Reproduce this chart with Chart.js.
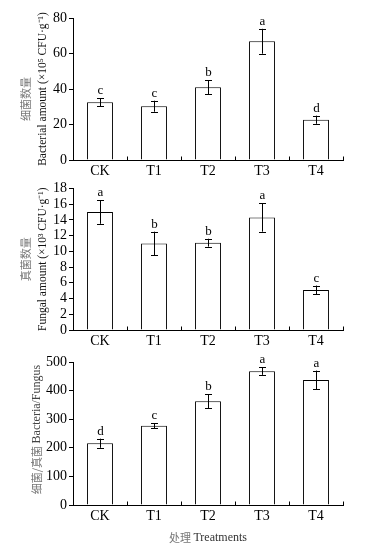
<!DOCTYPE html>
<html>
<head>
<meta charset="utf-8">
<script src="https://cdn.jsdelivr.net/npm/chart.js"></script>
<style>
  body { margin: 0; background: #fff; }
  #wrap { position: relative; width: 368px; height: 552px; }
  canvas { position: absolute; left: 0; }
</style>
</head>
<body>
<div id="wrap">
  <canvas id="c1" width="368" height="180" style="top:0px"></canvas>
  <canvas id="c2" width="368" height="172" style="top:178px"></canvas>
  <canvas id="c3" width="368" height="202" style="top:350px"></canvas>
</div>
<script>
const categories = ['CK', 'T1', 'T2', 'T3', 'T4'];

const bacteria = [32.6, 30.3, 41.0, 66.9, 22.7];
const bacteriaErr = [2.2, 3.1, 3.9, 7.0, 2.3];
const bacteriaLetters = ['c', 'c', 'b', 'a', 'd'];

const fungi = [15.0, 11.0, 11.1, 14.3, 5.1];
const fungiErr = [1.5, 1.5, 0.5, 1.8, 0.55];
const fungiLetters = ['a', 'b', 'b', 'a', 'c'];

const ratio = [216, 277, 363, 468, 437];
const ratioErr = [16, 9, 24, 13, 33];
const ratioLetters = ['d', 'c', 'b', 'a', 'a'];

const bacteriaTicks = [0, 20, 40, 60, 80];
const fungiTicks = [0, 2, 4, 6, 8, 10, 12, 14, 16, 18];
const ratioTicks = [0, 100, 200, 300, 400, 500];

const SERIF = '"Liberation Serif", "Times New Roman", serif';
const CJK = '"Noto Sans CJK SC", sans-serif';

// draw a run of text pieces (different fonts / colours) centred on a point
function drawRun(ctx, parts, cx, cy, rotate) {
    ctx.save();
    ctx.translate(cx, cy);
    if (rotate) ctx.rotate(-Math.PI / 2);
    let total = 0;
    parts.forEach(function (p) { ctx.font = p.font; total += ctx.measureText(p.text).width; });
    let x = -total / 2;
    ctx.textBaseline = 'middle';
    ctx.textAlign = 'left';
    parts.forEach(function (p) {
        ctx.font = p.font;
        ctx.fillStyle = p.color;
        ctx.fillText(p.text, x, 0);
        x += ctx.measureText(p.text).width;
    });
    ctx.restore();
}

function makePanel(id, values, errs, letters, ticks, opts) {
    const extras = {
        id: 'extras',
        afterDatasetsDraw(chart) {
            const ctx = chart.ctx;
            const ys = chart.scales.y;
            const xs = chart.scales.x;
            const meta = chart.getDatasetMeta(0);
            ctx.save();
            ctx.strokeStyle = '#000';
            ctx.lineWidth = 1;
            meta.data.forEach(function (bar, i) {
                const x = Math.round(bar.x) + 0.5;
                const top = ys.getPixelForValue(values[i] + errs[i]);
                const bot = ys.getPixelForValue(values[i] - errs[i]);
                ctx.beginPath();
                ctx.moveTo(x, top); ctx.lineTo(x, bot);
                ctx.moveTo(x - 3.5, Math.round(top) + 0.5); ctx.lineTo(x + 3.5, Math.round(top) + 0.5);
                ctx.moveTo(x - 3.5, Math.round(bot) + 0.5); ctx.lineTo(x + 3.5, Math.round(bot) + 0.5);
                ctx.stroke();
                ctx.font = '13px ' + SERIF;
                ctx.fillStyle = '#000';
                ctx.textAlign = 'center';
                ctx.textBaseline = 'alphabetic';
                ctx.fillText(letters[i], x, top - 4);
            });
            // small inward ticks between categories on the x axis
            const step = xs.getPixelForValue(1) - xs.getPixelForValue(0);
            const base = Math.round(chart.chartArea.bottom) + 0.5;
            ctx.beginPath();
            for (let i = 1; i <= categories.length; i++) {
                let tx = i < categories.length ? xs.getPixelForValue(i) - step / 2 : chart.chartArea.right;
                tx = Math.round(tx) + 0.5;
                ctx.moveTo(tx, base); ctx.lineTo(tx, base - 4);
            }
            ctx.stroke();
            ctx.restore();

            // axis titles
            opts.ytitle.forEach(function (line) {
                drawRun(ctx, line.parts, line.x, (chart.chartArea.top + chart.chartArea.bottom) / 2 + (line.dy || 0), true);
            });
            if (opts.xtitle) {
                drawRun(ctx, opts.xtitle, (chart.chartArea.left + chart.chartArea.right) / 2, chart.chartArea.bottom + 33, false);
            }
        }
    };

    return new Chart(document.getElementById(id), {
        type: 'bar',
        data: {
            labels: categories,
            datasets: [{
                data: values,
                backgroundColor: '#fff',
                borderColor: '#000',
                borderWidth: 1,
                barPercentage: 0.48,
                categoryPercentage: 1
            }]
        },
        options: {
            responsive: false,
            animation: false,
            devicePixelRatio: 1,
            layout: { padding: { top: opts.top, right: 25, left: 0, bottom: 0 } },
            plugins: { legend: { display: false }, tooltip: { enabled: false } },
            scales: {
                x: {
                    afterFit: function (s) { s.height = opts.xh; },
                    grid: { display: false, drawTicks: false },
                    border: { display: true, color: '#000', width: 1 },
                    ticks: { color: '#000', font: { family: SERIF, size: 14 }, padding: 3 }
                },
                y: {
                    min: ticks[0],
                    max: ticks[ticks.length - 1],
                    afterFit: function (s) { s.width = 73; },
                    afterBuildTicks: function (s) { s.ticks = ticks.map(function (v) { return { value: v }; }); },
                    grid: { drawOnChartArea: false, drawTicks: true, tickLength: 4, color: '#000' },
                    border: { display: true, color: '#000', width: 1 },
                    ticks: { color: '#000', font: { family: SERIF, size: 14 }, padding: 2, autoSkip: false }
                }
            }
        },
        plugins: [extras]
    });
}

makePanel('c1', bacteria, bacteriaErr, bacteriaLetters, bacteriaTicks, {
    top: 18, xh: 20,
    ytitle: [
        { x: 26, dy: 10, parts: [{ text: '细菌数量', font: '11px ' + CJK, color: '#777' }] },
        { x: 43, parts: [{ text: 'Bacterial amount (×10⁵ CFU·g⁻¹)', font: '11.5px ' + SERIF, color: '#111' }] }
    ]
});

makePanel('c2', fungi, fungiErr, fungiLetters, fungiTicks, {
    top: 10, xh: 20,
    ytitle: [
        { x: 26, parts: [{ text: '真菌数量', font: '11px ' + CJK, color: '#777' }] },
        { x: 43, parts: [{ text: 'Fungal amount (×10³ CFU·g⁻¹)', font: '11.5px ' + SERIF, color: '#111' }] }
    ]
});

makePanel('c3', ratio, ratioErr, ratioLetters, ratioTicks, {
    top: 12, xh: 47,
    ytitle: [
        { x: 37, dy: -4, parts: [
            { text: '细菌/真菌 ', font: '11px ' + CJK, color: '#777' },
            { text: 'Bacteria/Fungus', font: '12px ' + SERIF, color: '#444' }
        ] }
    ],
    xtitle: [
        { text: '处理 ', font: '11px ' + CJK, color: '#777' },
        { text: 'Treatments', font: '12px ' + SERIF, color: '#333' }
    ]
});
</script>
</body>
</html>
